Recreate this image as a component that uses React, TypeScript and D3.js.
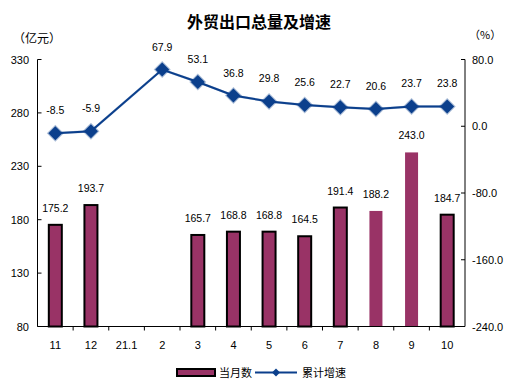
import React from "react";
import * as d3 from "d3";

const categories = ["11", "12", "21.1", "2", "3", "4", "5", "6", "7", "8", "9", "10"];
const monthly: (number | null)[] = [175.2, 193.7, null, null, 165.7, 168.8, 168.8, 164.5, 191.4, 188.2, 243.0, 184.7];
const bordered = [true, true, false, false, true, true, true, true, true, false, false, true];
const growth: (number | null)[] = [-8.5, -5.9, null, 67.9, 53.1, 36.8, 29.8, 25.6, 22.7, 20.6, 23.7, 23.8];
const leftTicks = [80, 130, 180, 230, 280, 330];
const rightTicks = [-240, -160, -80, 0, 80];

const W = 518, H = 392;
const L = 37.5, R = 465, T = 59.5, B = 326.5;
const BAR = "#993366";
const LINE = "#0b3f8c";
const FONT = "'Liberation Sans', 'DejaVu Sans', sans-serif";
const CJK = "'Noto Sans CJK SC', sans-serif";

export default function App() {
  const x = d3.scaleBand<string>().domain(categories).range([L, R]).paddingInner(0).paddingOuter(0);
  const yL = d3.scaleLinear().domain([80, 330]).range([B, T]);
  const yR = d3.scaleLinear().domain([-240, 80]).range([B, T]);
  const bw = 13;
  const cx = (c: string) => (x(c) as number) + x.bandwidth() / 2;
  const linePts = categories
    .map((c, i) => ({ c, v: growth[i] }))
    .filter((d) => d.v !== null) as { c: string; v: number }[];
  const lineGen = d3.line<{ c: string; v: number }>().x((d) => cx(d.c)).y((d) => yR(d.v));
  const diamond = (px: number, py: number, s: number) =>
    `M${px},${py - s}L${px + s},${py}L${px},${py + s}L${px - s},${py}Z`;

  return (
    <svg width={W} height={H} style={{ position: "absolute", left: 0, top: 0, background: "#fff" }}>
      <text x={259} y={28} textAnchor="middle" fontFamily={CJK} fontWeight="bold" fontSize={16} fill="#000">
        外贸出口总量及增速
      </text>
      <text x={13} y={43} fontFamily={CJK} fontSize={12} fill="#000">（亿元）</text>
      <text x={469} y={39} fontFamily={CJK} fontSize={11} fill="#000">（%）</text>

      {/* bars */}
      {categories.map((c, i) => {
        const v = monthly[i];
        if (v === null) return null;
        const y0 = yL(v);
        return (
          <g key={"b" + c}>
            <rect
              x={cx(c) - bw / 2}
              y={y0}
              width={bw}
              height={B - y0}
              fill={BAR}
              stroke={bordered[i] ? "#000" : "none"}
              strokeWidth={bordered[i] ? 2 : 0}
            />
            <text x={cx(c)} y={y0 - 13} textAnchor="middle" fontFamily={FONT} fontSize={10.5} fill="#000">
              {v.toFixed(1)}
            </text>
          </g>
        );
      })}

      {/* axes */}
      <line x1={L} x2={L} y1={T} y2={B} stroke="#000" />
      <line x1={R} x2={R} y1={T} y2={B} stroke="#000" />
      <line x1={L} x2={R} y1={B} y2={B} stroke="#000" />
      {leftTicks.map((t) => (
        <g key={"l" + t}>
          <line x1={L} x2={L + 4} y1={yL(t)} y2={yL(t)} stroke="#000" />
          <text x={29} y={yL(t) + 4} textAnchor="end" fontFamily={FONT} fontSize={11} fill="#000">{t}</text>
        </g>
      ))}
      {rightTicks.map((t) => (
        <g key={"r" + t}>
          <line x1={R - 4} x2={R} y1={yR(t)} y2={yR(t)} stroke="#000" />
          <text x={472} y={yR(t) + 4} textAnchor="start" fontFamily={FONT} fontSize={11} fill="#000">{t.toFixed(1)}</text>
        </g>
      ))}
      {categories.map((c, i) =>
        i === 0 ? null : (
          <line key={"t" + c} x1={x(c) as number} x2={x(c) as number} y1={B} y2={B + 4} stroke="#000" />
        )
      )}
      {categories.map((c) => (
        <text key={"x" + c} x={cx(c)} y={349} textAnchor="middle" fontFamily={FONT} fontSize={11} fill="#000">{c}</text>
      ))}

      {/* line */}
      <path d={lineGen(linePts) || ""} fill="none" stroke={LINE} strokeWidth={2.5} strokeOpacity={0.3} />
      <path d={lineGen(linePts) || ""} fill="none" stroke={LINE} strokeWidth={2} />
      {linePts.map((d) => (
        <g key={"p" + d.c}>
          <path d={diamond(cx(d.c), yR(d.v), 8.5)} fill={LINE} fillOpacity={0.35} />
          <path d={diamond(cx(d.c), yR(d.v), 7)} fill={LINE} />
          <text x={cx(d.c)} y={yR(d.v) - 19} textAnchor="middle" fontFamily={FONT} fontSize={10.5} fill="#000">
            {d.v.toFixed(1)}
          </text>
        </g>
      ))}

      {/* legend */}
      <rect x={177} y={369} width={38} height={7} fill={BAR} stroke="#000" strokeWidth={2} />
      <text x={219} y={377} fontFamily={CJK} fontSize={11} fill="#000">当月数</text>
      <line x1={255} x2={297} y1={372.5} y2={372.5} stroke={LINE} strokeWidth={2} />
      <path d={diamond(276, 372.5, 4)} fill={LINE} />
      <text x={302} y={377} fontFamily={CJK} fontSize={11} fill="#000">累计增速</text>
    </svg>
  );
}
